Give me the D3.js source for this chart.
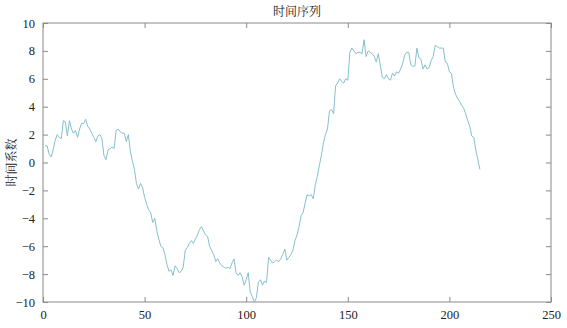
<!DOCTYPE html>
<html><head><meta charset="utf-8">
<script src="https://cdn.jsdelivr.net/npm/d3@7"></script>
<style>
html,body{margin:0;padding:0;background:#fff;}
svg{display:block;}
</style></head>
<body><svg id="chart" width="567" height="328"></svg>
<script>
const title = "时间序列";
const yLabel = "时间系数";
const xTicks = [0, 50, 100, 150, 200, 250];
const yTicks = [-10, -8, -6, -4, -2, 0, 2, 4, 6, 8, 10];
const values = [
 1.2, 1.2, 0.6, 0.4, 0.9, 1.6, 2.0, 1.8, 1.7, 3.0,
 2.9, 1.9, 3.0, 2.4, 2.1, 2.3, 1.8, 2.4, 2.8, 2.8,
 3.1, 2.6, 2.4, 2.1, 1.8, 1.5, 1.9, 2.0, 1.7, 0.5,
 0.2, 0.9, 1.0, 1.1, 1.0, 2.3, 2.4, 2.2, 2.1, 2.1,
 1.5, 2.0, 0.8, 0.1, -0.5, -1.5, -1.9, -1.5, -1.8, -2.5,
 -3.0, -3.4, -3.6, -4.3, -4.0, -4.9, -5.5, -6.0, -6.1, -6.6,
 -7.3, -7.8, -7.7, -8.1, -7.4, -7.6, -7.9, -7.8, -7.5, -6.3,
 -6.1, -5.8, -5.6, -5.8, -5.5, -5.2, -4.8, -4.6, -4.9, -5.2,
 -5.3, -6.0, -6.3, -6.6, -7.1, -6.9, -7.2, -7.4, -7.5, -7.6,
 -7.5, -7.6, -7.2, -6.9, -7.9, -8.1, -7.9, -8.2, -8.8, -8.4,
 -7.9, -9.3, -9.6, -10.0, -9.7, -8.6, -8.4, -8.8, -8.5, -8.6,
 -6.8, -7.0, -7.2, -7.1, -7.0, -7.1, -6.9, -6.6, -6.2, -7.0,
 -6.8, -6.6, -6.3, -5.6, -5.2, -4.6, -3.8, -3.6, -2.9, -2.3,
 -2.4, -2.3, -2.6, -1.6, -1.0, -0.2, 0.5, 1.4, 2.0, 2.4,
 3.7, 3.8, 3.5, 5.5, 5.7, 6.0, 5.8, 5.7, 6.0, 5.9,
 7.9, 8.2, 8.0, 7.8, 7.9, 7.9, 7.8, 8.8, 7.6, 8.0,
 7.9, 7.8, 7.6, 7.2, 7.8, 7.0, 6.1, 6.0, 6.3, 6.0,
 5.9, 6.4, 6.2, 6.5, 6.4, 6.7, 7.1, 7.7, 7.9, 7.9,
 7.0, 6.9, 6.9, 8.2, 7.5, 7.4, 6.7, 7.0, 6.7, 6.8,
 7.3, 7.6, 8.4, 8.3, 8.2, 8.2, 8.2, 7.2, 7.1, 6.5,
 6.4, 5.4, 4.9, 4.6, 4.4, 4.1, 3.9, 3.5, 3.0, 2.6,
 1.9, 1.8, 0.9, 0.2, -0.5
];
const xs = values.map((v, i) => i + 1);

const svg = d3.select("#chart");
const L = 43, R = 551, T = 23, B = 302;
const x = d3.scaleLinear().domain([0, 250]).range([L, R]);
const y = d3.scaleLinear().domain([-10, 10]).range([B, T]);
const axisColor = "#8a8a8a";
const serif = "'Liberation Serif', 'Times New Roman', serif";

const gB = svg.append("g").attr("transform", `translate(0,${B})`)
  .call(d3.axisBottom(x).tickValues(xTicks).tickSize(-5).tickPadding(8).tickFormat(d3.format("d")));
const gT = svg.append("g").attr("transform", `translate(0,${T})`)
  .call(d3.axisTop(x).tickValues(xTicks).tickSize(-5).tickFormat(""));
const gL = svg.append("g").attr("transform", `translate(${L},0)`)
  .call(d3.axisLeft(y).tickValues(yTicks).tickSize(-5).tickPadding(8).tickFormat(d3.format("d")));
const gR = svg.append("g").attr("transform", `translate(${R},0)`)
  .call(d3.axisRight(y).tickValues(yTicks).tickSize(-5).tickFormat(""));
[gB, gT, gL, gR].forEach(g => {
  g.attr("font-family", serif).attr("font-size", 12.5);
  g.select(".domain").remove();
  g.selectAll(".tick line").attr("stroke", axisColor);
  g.selectAll(".tick text").attr("fill", "#222").attr("font-family", serif);
});
svg.append("rect").attr("x", L).attr("y", T).attr("width", R - L).attr("height", B - T)
  .attr("fill", "none").attr("stroke", axisColor).attr("stroke-width", 1);

const line = d3.line().x((d, i) => x(xs[i])).y(d => y(d));
svg.append("path").datum(values)
  .attr("fill", "none").attr("stroke", "#86c0ce").attr("stroke-width", 1)
  .attr("d", line);

svg.append("text").attr("x", (L + R) / 2).attr("y", 16).attr("text-anchor", "middle")
  .attr("font-family", "'Noto Serif CJK SC', 'Noto Sans CJK SC', serif").attr("font-size", 12).attr("fill", "#222")
  .text(title);
svg.append("text").attr("transform", `translate(16,${(T + B) / 2}) rotate(-90)`)
  .attr("text-anchor", "middle")
  .attr("font-family", "'Noto Serif CJK SC', 'Noto Sans CJK SC', serif").attr("font-size", 12).attr("fill", "#222")
  .text(yLabel);
</script></body></html>
